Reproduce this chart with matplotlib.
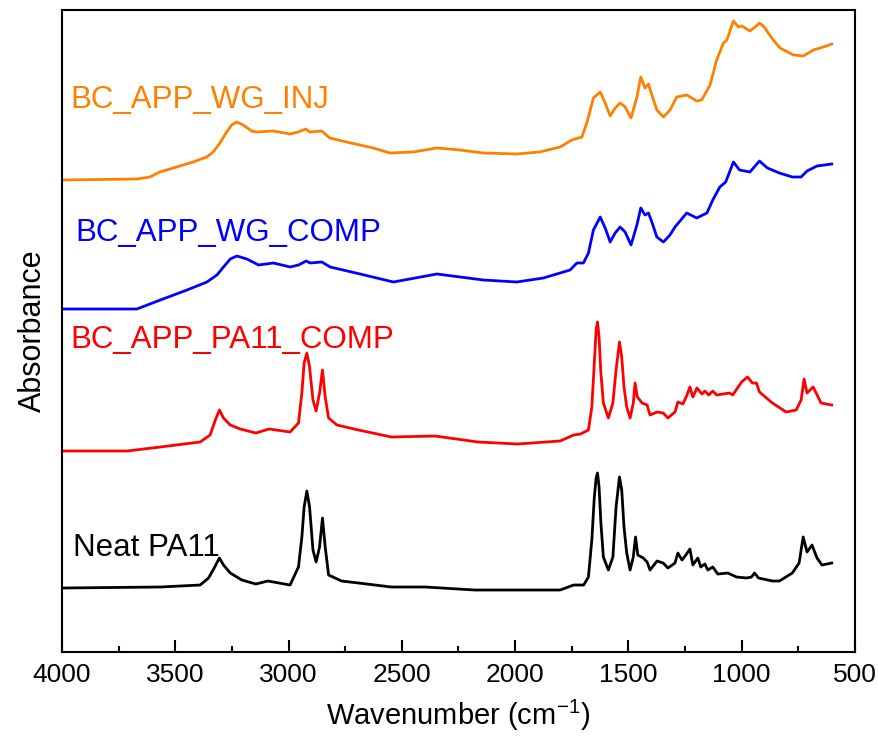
import matplotlib
matplotlib.use('Agg')
from matplotlib import pyplot as plt
from matplotlib.ticker import MultipleLocator

plt.rcParams['font.family'] = ['Liberation Sans', 'DejaVu Sans']

# FTIR spectra, offset stacked (wavenumber in cm-1, absorbance in a.u.)
inj_w = [4000, 3670, 3612, 3568, 3494, 3421, 3361, 3332, 3303, 3273, 3251, 3229, 3200, 3163,
         3141, 3067, 2994, 2957, 2923, 2906, 2854, 2817, 2744, 2685, 2626, 2553, 2450, 2346,
         2244, 2141, 1993, 1891, 1801, 1749, 1705, 1683, 1654, 1624, 1602, 1580, 1558, 1536,
         1514, 1488, 1462, 1445, 1426, 1411, 1396, 1374, 1345, 1316, 1286, 1242, 1198, 1176,
         1139, 1110, 1080, 1065, 1036, 1014, 999, 963, 940, 921, 904, 882, 860, 830, 771,
         727, 683, 639, 602]
inj_a = [4.70, 4.71, 4.73, 4.78, 4.83, 4.88, 4.93, 4.98, 5.07, 5.18, 5.25, 5.28, 5.25, 5.19,
         5.18, 5.19, 5.16, 5.18, 5.21, 5.18, 5.19, 5.12, 5.08, 5.05, 5.02, 4.97, 4.98, 5.02,
         5.00, 4.97, 4.96, 4.98, 5.03, 5.10, 5.13, 5.27, 5.52, 5.58, 5.47, 5.34, 5.42, 5.47,
         5.43, 5.32, 5.53, 5.73, 5.62, 5.66, 5.55, 5.40, 5.33, 5.40, 5.53, 5.55, 5.49, 5.50,
         5.65, 5.90, 6.07, 6.10, 6.29, 6.23, 6.24, 6.19, 6.23, 6.27, 6.24, 6.17, 6.10, 6.02,
         5.95, 5.94, 6.00, 6.03, 6.06]

wg_w = [4000, 3669, 3566, 3448, 3360, 3316, 3287, 3257, 3228, 3184, 3132, 3066, 2993, 2956,
        2922, 2904, 2853, 2816, 2684, 2537, 2345, 2140, 1992, 1875, 1801, 1757, 1727, 1698,
        1676, 1654, 1624, 1602, 1580, 1558, 1536, 1514, 1488, 1462, 1445, 1426, 1411, 1396,
        1374, 1345, 1316, 1294, 1242, 1198, 1153, 1127, 1096, 1070, 1036, 1009, 963, 921,
        886, 833, 776, 737, 711, 667, 602]
wg_a = [3.41, 3.41, 3.50, 3.60, 3.68, 3.75, 3.83, 3.91, 3.94, 3.91, 3.85, 3.87, 3.83, 3.85,
        3.89, 3.87, 3.88, 3.83, 3.76, 3.68, 3.76, 3.70, 3.68, 3.72, 3.77, 3.80, 3.87, 3.87,
        3.97, 4.20, 4.33, 4.22, 4.08, 4.17, 4.23, 4.18, 4.05, 4.25, 4.42, 4.35, 4.37, 4.28,
        4.13, 4.08, 4.15, 4.23, 4.37, 4.32, 4.37, 4.50, 4.63, 4.68, 4.88, 4.80, 4.78, 4.89,
        4.82, 4.77, 4.73, 4.73, 4.79, 4.84, 4.86]

pa_w = [4000, 3713, 3566, 3390, 3346, 3323, 3305, 3287, 3257, 3213, 3144, 3086, 2993, 2956,
        2941, 2931, 2919, 2907, 2892, 2878, 2863, 2850, 2838, 2823, 2786, 2691, 2546, 2353,
        2164, 1988, 1801, 1741, 1711, 1676, 1661, 1650, 1642, 1636, 1629, 1621, 1610, 1588,
        1568, 1554, 1539, 1529, 1519, 1507, 1492, 1478, 1470, 1460, 1439, 1417, 1404, 1373,
        1346, 1325, 1294, 1281, 1259, 1241, 1228, 1215, 1197, 1175, 1162, 1145, 1127, 1110,
        1053, 1039, 1000, 974, 952, 934, 921, 864, 803, 759, 737, 724, 711, 684, 649, 602]
pa_a = [1.99, 1.99, 2.03, 2.08, 2.15, 2.30, 2.40, 2.32, 2.25, 2.21, 2.17, 2.21, 2.18, 2.27,
        2.57, 2.87, 2.97, 2.83, 2.50, 2.39, 2.57, 2.80, 2.53, 2.32, 2.25, 2.20, 2.13, 2.14,
        2.08, 2.06, 2.09, 2.15, 2.16, 2.20, 2.43, 2.87, 3.20, 3.28, 3.13, 2.77, 2.47, 2.32,
        2.47, 2.80, 3.08, 2.93, 2.63, 2.43, 2.32, 2.47, 2.67, 2.53, 2.47, 2.45, 2.35, 2.38,
        2.37, 2.32, 2.38, 2.48, 2.46, 2.55, 2.63, 2.53, 2.62, 2.56, 2.59, 2.55, 2.59, 2.55,
        2.57, 2.55, 2.68, 2.73, 2.67, 2.67, 2.58, 2.47, 2.38, 2.40, 2.50, 2.71, 2.57, 2.63,
        2.47, 2.45]

neat_w = [4000, 3566, 3390, 3353, 3328, 3305, 3287, 3257, 3206, 3144, 3091, 2993, 2956, 2941,
          2931, 2919, 2907, 2892, 2878, 2863, 2850, 2838, 2823, 2766, 2691, 2546, 2397, 2177,
          1958, 1801, 1741, 1697, 1676, 1661, 1650, 1642, 1636, 1629, 1621, 1610, 1588, 1568,
          1554, 1539, 1529, 1519, 1507, 1492, 1478, 1468, 1458, 1434, 1417, 1404, 1373, 1346,
          1325, 1294, 1281, 1263, 1246, 1228, 1215, 1193, 1180, 1162, 1149, 1127, 1105, 1061,
          1022, 978, 956, 943, 925, 864, 833, 776, 746, 728, 711, 689, 667, 645, 602]
neat_a = [0.62, 0.63, 0.65, 0.72, 0.82, 0.92, 0.85, 0.77, 0.70, 0.66, 0.69, 0.65, 0.83, 1.13,
          1.43, 1.59, 1.43, 1.00, 0.88, 1.03, 1.32, 1.03, 0.75, 0.69, 0.67, 0.63, 0.63, 0.60,
          0.60, 0.60, 0.65, 0.65, 0.73, 1.10, 1.53, 1.72, 1.77, 1.63, 1.27, 0.93, 0.80, 0.93,
          1.43, 1.73, 1.60, 1.23, 0.97, 0.80, 0.93, 1.13, 0.95, 0.92, 0.88, 0.80, 0.89, 0.87,
          0.82, 0.87, 0.97, 0.90, 0.95, 1.01, 0.85, 0.92, 0.83, 0.86, 0.80, 0.83, 0.76, 0.77,
          0.73, 0.72, 0.73, 0.77, 0.72, 0.69, 0.69, 0.77, 0.87, 1.13, 0.98, 1.05, 0.92, 0.85,
          0.87]

labels = ['BC_APP_WG_INJ', 'BC_APP_WG_COMP', 'BC_APP_PA11_COMP', 'Neat PA11']
colors = ['#FF8000', '#0000FF', '#FF0000', '#000000']

fig = plt.figure(figsize=(8.79, 7.40), dpi=100)
ax = fig.add_axes([0.0705, 0.1189, 0.902, 0.8676])

series = [(inj_w, inj_a), (wg_w, wg_a), (pa_w, pa_a), (neat_w, neat_a)]
for (w, a), c in zip(series, colors):
    ax.plot(w, a, color=c, linewidth=2.0, solid_joinstyle='round')

# labels sit just above each trace, at the left
label_pos = [(3965, 5.50), (3943, 4.17), (3965, 3.10), (3952, 1.02)]
for (x, y), lab, c in zip(label_pos, labels, colors):
    ax.text(x, y, lab, color=c, fontsize=22.5, ha='left', va='center')

ax.set_xlim(4000, 500)
ax.set_ylim(-0.02, 6.40)
ax.xaxis.set_major_locator(MultipleLocator(500))
ax.xaxis.set_minor_locator(MultipleLocator(250))
ax.set_yticks([])
ax.tick_params(axis='x', which='major', direction='in', length=8.5, width=1.5,
               labelsize=19, pad=8)
ax.tick_params(axis='x', which='minor', direction='in', length=4.3, width=1.5)
for s in ax.spines.values():
    s.set_linewidth(1.5)

ax.set_xlabel(r'Wavenumber (cm$^{\mathregular{-1}}$)', fontsize=21, labelpad=8)
ax.set_ylabel('Absorbance', fontsize=22, labelpad=10)

fig.savefig('out.png', dpi=100)
